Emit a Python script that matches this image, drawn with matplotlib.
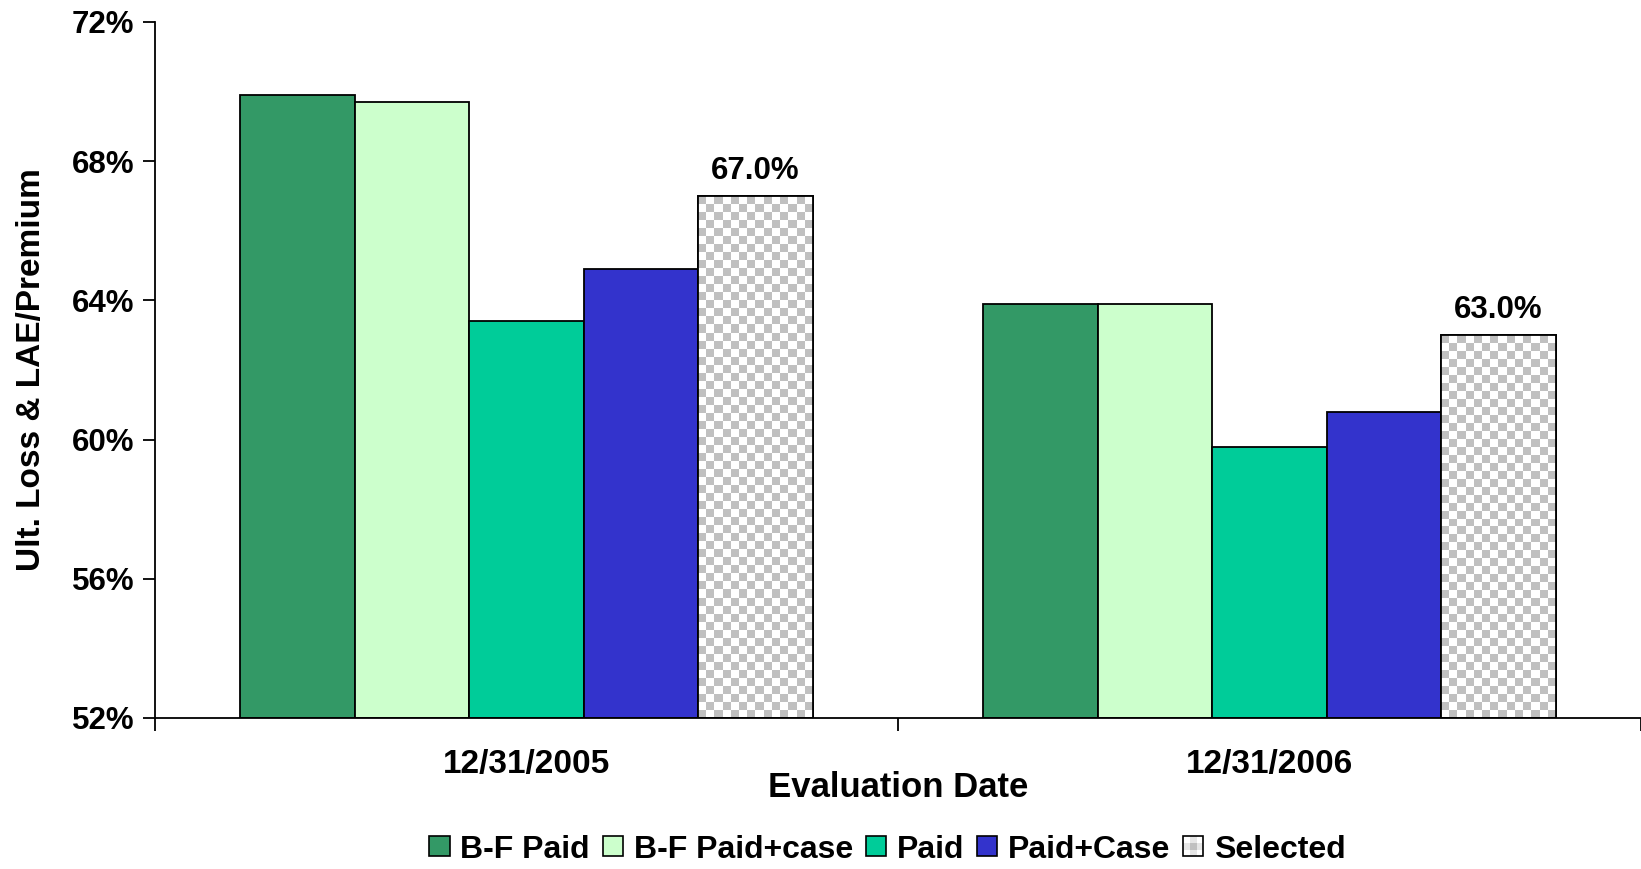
import numpy as np
import matplotlib
matplotlib.use("Agg")
import matplotlib.pyplot as plt
from matplotlib.patches import Rectangle
from matplotlib.legend_handler import HandlerBase
from matplotlib.ticker import FuncFormatter

plt.rcParams['font.family'] = ['Liberation Sans', 'DejaVu Sans']
plt.rcParams['font.weight'] = 'bold'

dates = ['12/31/2005', '12/31/2006']
methods = ['B-F Paid', 'B-F Paid+case', 'Paid', 'Paid+Case', 'Selected']
colors = ['#339966', '#CCFFCC', '#00CC99', '#3333CC', None]
bf_paid = [69.9, 63.9]
bf_paid_case = [69.7, 63.9]
paid = [63.4, 59.8]
paid_case = [64.9, 60.8]
selected = [67.0, 63.0]
series = [bf_paid, bf_paid_case, paid, paid_case, selected]

CHECK_GREY = '#C0C0C0'


def checker(ny, nx):
    yy, xx = np.mgrid[0:ny, 0:nx]
    return (yy + xx) % 2


class CheckerHandler(HandlerBase):
    def create_artists(self, legend, orig_handle, xdescent, ydescent,
                       width, height, fontsize, trans):
        s = height
        x0 = -xdescent + (width - s) / 2
        y0 = -ydescent
        arts = [Rectangle((x0, y0), s, s, facecolor='white', edgecolor='none',
                          transform=trans)]
        n = 3
        c = s / n
        for i in range(n):
            for j in range(n):
                if (i + j) % 2 == 0 and (i, j) != (1, 1):
                    continue
                arts.append(Rectangle((x0 + j * c, y0 + i * c), c, c,
                                      facecolor=CHECK_GREY if (i, j) == (1, 1) else '#E6E6E6',
                                      edgecolor='none', transform=trans))
        arts.append(Rectangle((x0, y0), s, s, facecolor='none', edgecolor='black',
                              linewidth=1.2, transform=trans))
        return arts


class SquareHandler(HandlerBase):
    def create_artists(self, legend, orig_handle, xdescent, ydescent,
                       width, height, fontsize, trans):
        s = height
        x0 = -xdescent + (width - s) / 2
        return [Rectangle((x0, -ydescent), s, s, facecolor=orig_handle.get_facecolor(),
                          edgecolor='black', linewidth=1.2, transform=trans)]


fig = plt.figure(figsize=(16.41, 8.69), dpi=100)
ax = fig.add_axes([0.0945, 0.1738, 0.9055, 0.8009])

ymin, ymax = 52, 72
x = np.arange(len(dates))
group_w = 0.771
bw = group_w / len(methods)

handles = []
for k, (name, vals, col) in enumerate(zip(methods, series, colors)):
    pos = x - group_w / 2 + bw * (k + 0.5)
    if col is not None:
        bars = ax.bar(pos, np.array(vals) - ymin, bw, bottom=ymin, color=col,
                      edgecolor='black', linewidth=1.3, zorder=2, label=name)
        handles.append(bars.patches[0])
    else:
        bars = ax.bar(pos, np.array(vals) - ymin, bw, bottom=ymin, color='white',
                      edgecolor='black', linewidth=1.3, zorder=2, label=name)
        # checkerboard fill, ~8 px cells clipped to each bar
        for b in bars.patches:
            bx, by = b.get_x(), b.get_y()
            bwid, bh = b.get_width(), b.get_height()
            nx = 14
            ny = int(round(bh * 34.8 / 8))
            img = ax.imshow(checker(ny, nx), cmap=matplotlib.colors.ListedColormap([CHECK_GREY, 'white']),
                            extent=(bx, bx + bwid, by, by + bh), interpolation='nearest',
                            aspect='auto', zorder=2.5)
            img.set_clip_path(b)
            edge = Rectangle((bx, by), bwid, bh, facecolor='none', edgecolor='black',
                             linewidth=1.3, zorder=3)
            ax.add_patch(edge)
        for p, v in zip(pos, vals):
            ax.annotate(f'{v:.1f}%', (p, v), xytext=(0, 7.5), textcoords='offset points',
                        ha='center', va='bottom', fontsize=22.5, fontweight='bold')
        handles.append(bars.patches[0])

ax.set_xlim(-0.5, 1.5)
ax.set_ylim(ymin, ymax)
ax.set_yticks(np.arange(52, 73, 4))
ax.yaxis.set_major_formatter(FuncFormatter(lambda v, _: f'{v:.0f}%'))
ax.set_xticks(x)
ax.set_xticklabels(dates)
ax.set_xticks([-0.5, 0.5, 1.5], minor=True)
ax.tick_params(axis='x', which='major', length=0, pad=22, labelsize=24)
ax.tick_params(axis='x', which='minor', length=9, width=1.3, direction='out')
ax.tick_params(axis='y', length=9, width=1.3, direction='out', pad=6, labelsize=22.5)
for lbl in ax.get_xticklabels() + ax.get_yticklabels():
    lbl.set_fontweight('bold')

for side in ['top', 'right']:
    ax.spines[side].set_visible(False)
for side in ['left', 'bottom']:
    ax.spines[side].set_linewidth(1.3)

ax.set_xlabel('Evaluation Date', fontsize=25, fontweight='bold', labelpad=-6)
ax.set_ylabel('Ult. Loss & LAE/Premium', fontsize=24, fontweight='bold', labelpad=18)

handler_map = {h: SquareHandler() for h in handles[:-1]}
handler_map[handles[-1]] = CheckerHandler()
fig.legend(handles, methods, loc='lower center', bbox_to_anchor=(0.541, -0.028), ncol=5,
           frameon=False, fontsize=23, handler_map=handler_map, handlelength=0.6,
           handleheight=0.6, handletextpad=0.35, columnspacing=0.42)

fig.savefig('out.png', dpi=100)
